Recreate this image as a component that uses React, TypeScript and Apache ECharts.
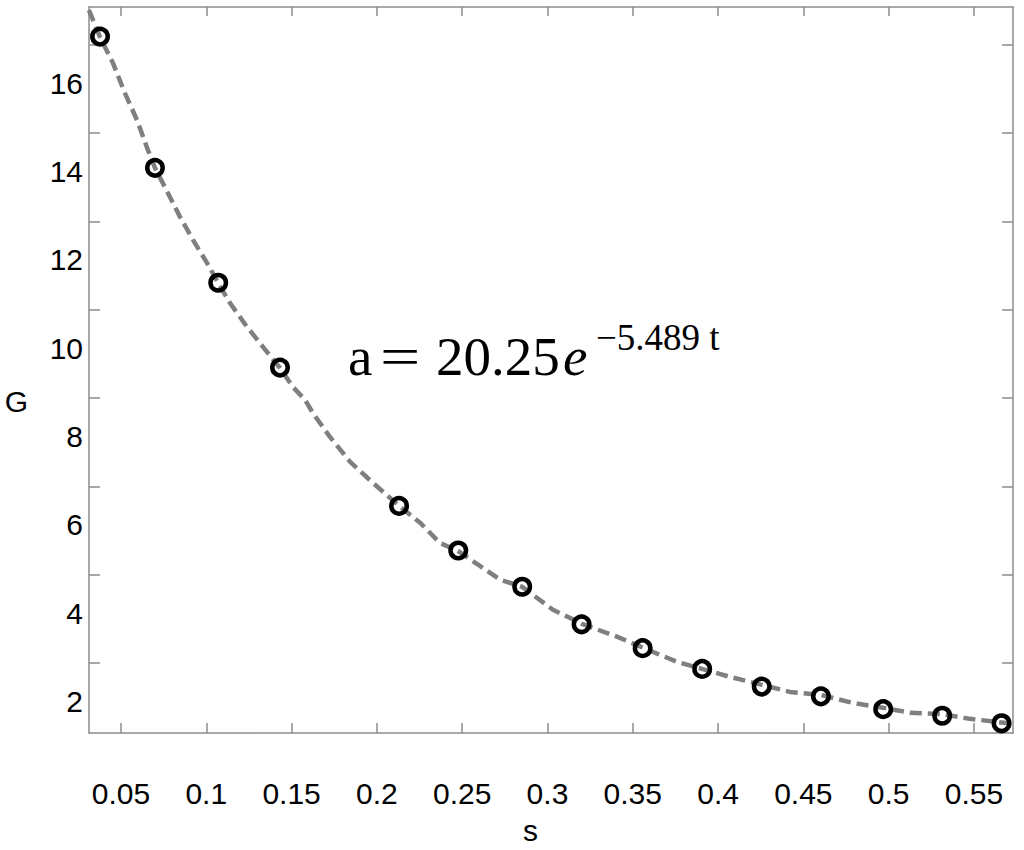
import { useEffect, useRef } from "react";
import * as echarts from "echarts";

// Measured data points (s, G)
const sValues = [0.0377, 0.0699, 0.107, 0.1432, 0.213, 0.2477, 0.2852, 0.32, 0.3558, 0.3907, 0.4256, 0.4603, 0.4968, 0.5314, 0.5662];
const gValues = [17.05, 14.08, 11.48, 9.56, 6.43, 5.42, 4.6, 3.75, 3.21, 2.74, 2.34, 2.12, 1.83, 1.68, 1.51];

// Fitted (dashed) curve
const fitS = [0.0312, 0.0377, 0.0453, 0.0523, 0.0594, 0.0658, 0.0699, 0.0787, 0.0846, 0.0922, 0.1004, 0.1069, 0.1139, 0.1239, 0.1332, 0.1432, 0.1508, 0.1579, 0.1625, 0.1725, 0.1801, 0.1842, 0.1977, 0.213, 0.2253, 0.237, 0.2475, 0.2604, 0.2722, 0.2851, 0.3032, 0.3202, 0.3407, 0.356, 0.3759, 0.3906, 0.407, 0.4257, 0.4421, 0.4603, 0.4791, 0.4967, 0.5125, 0.5312, 0.5477, 0.5729];
const fitG = [17.65, 17.04, 16.45, 15.77, 15.16, 14.48, 14.08, 13.42, 12.97, 12.45, 11.93, 11.48, 11.02, 10.48, 10.03, 9.55, 9.12, 8.83, 8.53, 7.99, 7.63, 7.43, 6.95, 6.43, 6.05, 5.59, 5.41, 5.07, 4.76, 4.6, 4.08, 3.76, 3.47, 3.22, 2.9, 2.74, 2.56, 2.38, 2.22, 2.15, 1.97, 1.86, 1.75, 1.72, 1.61, 1.5];

// Axis ticks / labels
const xTickLabels = [0.05, 0.1, 0.15, 0.2, 0.25, 0.3, 0.35, 0.4, 0.45, 0.5, 0.55];
const yTickLabels = [2, 4, 6, 8, 10, 12, 14, 16];
const yTickMarks = [2.87, 4.87, 6.87, 8.87, 10.87, 12.87, 14.87, 16.87];

const X_MIN = 0.03124;
const X_MAX = 0.5729;
const Y_MIN = 1.29;
const Y_MAX = 17.72;

const FRAME = "#8c8c8c";
const SANS = "'Liberation Sans', Arial, sans-serif";
const SERIF = "'Liberation Serif', 'Times New Roman', serif";

export default function App() {
  const ref = useRef<HTMLDivElement>(null);

  useEffect(() => {
    if (!ref.current) return;
    const chart = echarts.init(ref.current, undefined, { renderer: "svg" });

    const axisLine = { show: true, onZero: false, lineStyle: { color: FRAME, width: 1.5 } };
    const labelStyle = { color: "#000", fontFamily: SANS, fontSize: 30 };

    chart.setOption({
      animation: false,
      backgroundColor: "#fff",
      grid: { left: 89, right: 11, top: 7, bottom: 117, containLabel: false },
      xAxis: [
        {
          type: "value",
          position: "bottom",
          min: X_MIN,
          max: X_MAX,
          axisLine,
          splitLine: { show: false },
          axisTick: { show: true, inside: true, length: 10, customValues: xTickLabels, lineStyle: { color: FRAME, width: 1.5 } },
          axisLabel: { ...labelStyle, margin: 45, customValues: xTickLabels, formatter: (v: number) => String(v) },
        },
        {
          type: "value",
          position: "top",
          min: X_MIN,
          max: X_MAX,
          axisLine,
          splitLine: { show: false },
          axisTick: { show: true, inside: true, length: 9, customValues: xTickLabels, lineStyle: { color: FRAME, width: 1.5 } },
          axisLabel: { show: false },
        },
      ],
      yAxis: [
        {
          type: "value",
          position: "left",
          min: Y_MIN,
          max: Y_MAX,
          axisLine,
          splitLine: { show: false },
          axisTick: { show: true, inside: true, length: 11, customValues: yTickMarks, lineStyle: { color: FRAME, width: 1.5 } },
          axisLabel: { ...labelStyle, margin: 6, customValues: yTickLabels, formatter: (v: number) => String(v) },
        },
        {
          type: "value",
          position: "right",
          min: Y_MIN,
          max: Y_MAX,
          axisLine,
          splitLine: { show: false },
          axisTick: { show: true, inside: true, length: 11, customValues: yTickMarks, lineStyle: { color: FRAME, width: 1.5 } },
          axisLabel: { show: false },
        },
      ],
      series: [
        {
          type: "line",
          data: fitS.map((s, i) => [s, fitG[i]]),
          showSymbol: false,
          symbol: "none",
          clip: true,
          z: 2,
          lineStyle: { color: "#7f7f7f", width: 4.5, type: [12, 6], cap: "butt" },
        },
        {
          type: "scatter",
          data: sValues.map((s, i) => [s, gValues[i]]),
          symbol: "circle",
          symbolSize: 15.5,
          clip: false,
          z: 3,
          itemStyle: { color: "rgba(0,0,0,0)", borderColor: "#000", borderWidth: 4.5, opacity: 1 },
        },
      ],
      graphic: [
        { type: "text", x: 16.5, y: 401, style: { text: "G", font: `30px ${SANS}`, fill: "#000", align: "center", verticalAlign: "middle" } },
        { type: "text", x: 530.5, y: 830, style: { text: "s", font: `30px ${SANS}`, fill: "#000", align: "center", verticalAlign: "middle" } },
        { type: "text", x: 348, y: 356, style: { text: "a", font: `55px ${SERIF}`, fill: "#000", align: "left", verticalAlign: "middle" } },
        { type: "text", x: 380, y: 356, scaleX: 1.3, style: { text: "=", font: `55px ${SERIF}`, fill: "#000", align: "left", verticalAlign: "middle" } },
        { type: "text", x: 436, y: 356, style: { text: "20.25", font: `55px ${SERIF}`, fill: "#000", align: "left", verticalAlign: "middle" } },
        { type: "text", x: 563, y: 356, style: { text: "e", font: `italic 55px ${SERIF}`, fill: "#000", align: "left", verticalAlign: "middle" } },
        { type: "text", x: 596, y: 337.5, style: { text: "\u22125.489 t", font: `37px ${SERIF}`, fill: "#000", align: "left", verticalAlign: "middle" } },
      ],
    });

    return () => chart.dispose();
  }, []);

  return <div ref={ref} style={{ position: "absolute", left: 0, top: 0, width: 1024, height: 850 }} />;
}
